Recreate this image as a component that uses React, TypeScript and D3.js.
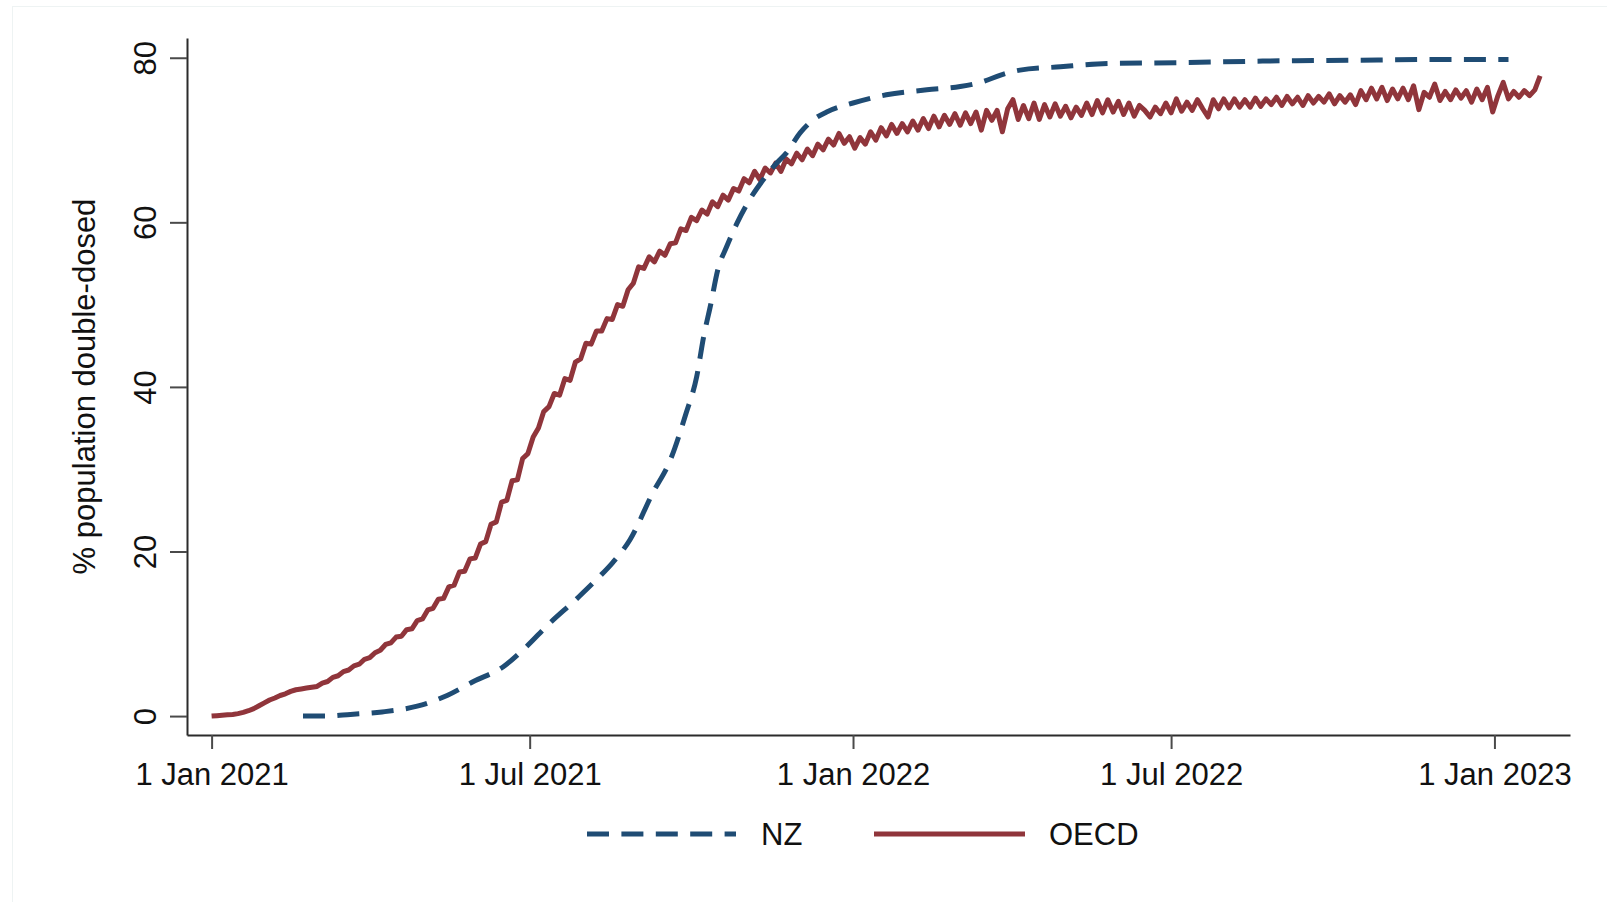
import React, { useEffect, useRef } from 'react';
import * as d3 from 'd3';

const width = 1607;
const height = 902;
const plot = { left: 187, right: 1570, top: 38, bottom: 735 };

// NZ: share of population double-dosed
const nzDates = [
  '2021-02-22', '2021-03-07', '2021-03-21', '2021-04-08', '2021-04-28', '2021-05-15',
  '2021-05-30', '2021-06-16', '2021-06-29', '2021-07-11', '2021-07-29', '2021-08-09',
  '2021-08-17', '2021-08-27', '2021-09-09', '2021-09-19', '2021-09-28', '2021-10-04',
  '2021-10-08', '2021-10-12', '2021-10-16', '2021-10-21', '2021-10-27', '2021-11-03',
  '2021-11-11', '2021-11-19', '2021-11-24', '2021-12-02', '2021-12-09', '2021-12-17',
  '2022-01-01', '2022-01-20', '2022-02-12', '2022-03-03', '2022-03-16', '2022-03-26',
  '2022-04-06', '2022-04-29', '2022-05-27', '2022-07-05', '2022-08-24', '2022-10-13',
  '2022-12-02', '2023-01-09',
];
const nzValues = [
  0, 0, 0.2, 0.5, 1.2, 2.5,
  4.2, 6.0, 8.4, 11.0, 14.5, 16.8,
  18.6, 21.4, 27.1, 31.1, 36.8, 41.2,
  46.1, 50.0, 54.2, 57.0, 59.9, 62.7,
  65.2, 67.3, 68.4, 70.9, 72.4, 73.4,
  74.5, 75.5, 76.1, 76.5, 77.1, 77.9,
  78.5, 78.9, 79.3, 79.4, 79.6, 79.7,
  79.8, 79.8,
];

// OECD: one reading every 3 days from 1 Jan 2021
const oecdStart = '2021-01-01';
const oecdStepDays = 3;
const oecdValues = [
  0.0, 0.05, 0.1, 0.15, 0.2, 0.3, 0.45, 0.65, 0.9, 1.25,
  1.6, 1.95, 2.2, 2.5, 2.7, 3.0, 3.2, 3.3, 3.4, 3.5,
  3.6, 4.0, 4.2, 4.7, 4.9, 5.4, 5.6, 6.1, 6.3, 6.9,
  7.1, 7.7, 8.0, 8.7, 8.9, 9.6, 9.7, 10.5, 10.6, 11.6,
  11.8, 12.9, 13.1, 14.2, 14.3, 15.7, 15.9, 17.5, 17.6, 19.1,
  19.2, 20.9, 21.2, 23.3, 23.6, 26.0, 26.2, 28.6, 28.7, 31.3,
  31.9, 33.9, 35.0, 37.0, 37.6, 39.2, 39.0, 41.0, 40.8, 43.0,
  43.4, 45.3, 45.2, 46.8, 46.8, 48.3, 48.2, 50.0, 49.8, 51.8,
  52.6, 54.6, 54.4, 55.8, 55.2, 56.5, 56.0, 57.4, 57.5, 59.2,
  59.0, 60.6, 60.2, 61.5, 61.0, 62.5, 61.9, 63.3, 62.7, 64.1,
  63.8, 65.3, 64.8, 66.2, 65.2, 66.6, 66.0, 67.2, 66.2, 67.7,
  67.1, 68.4, 67.6, 68.9, 68.1, 69.5, 68.8, 70.1, 69.4, 70.8,
  69.6, 70.4, 69.0, 70.3, 69.5, 71.0, 70.0, 71.5, 70.5, 71.9,
  70.8, 72.0, 71.0, 72.3, 71.2, 72.6, 71.4, 72.9, 71.6, 73.0,
  71.9, 73.2, 71.8, 73.3, 72.0, 73.4, 71.2, 73.6, 72.4, 73.6,
  71.0, 73.8, 74.9, 72.5, 74.2, 72.6, 74.5, 72.5, 74.3, 72.8,
  74.4, 72.9, 74.1, 72.7, 74.0, 73.0, 74.5, 73.1, 74.8, 73.3,
  74.9, 73.4, 74.7, 73.1, 74.5, 72.9, 74.2, 73.6, 72.8, 74.0,
  73.2, 74.5, 73.3, 75.0, 73.5, 74.6, 73.6, 74.9, 73.8, 72.8,
  74.9, 73.8, 75.0, 73.9, 75.0, 74.0, 74.9, 74.0, 75.1, 74.1,
  75.0, 74.3, 75.2, 74.2, 75.3, 74.4, 75.2, 74.2, 75.4, 74.5,
  75.3, 74.6, 75.6, 74.4, 75.4, 74.6, 75.5, 74.3, 76.0, 74.9,
  76.3, 75.0, 76.4, 74.8, 76.2, 75.0, 76.3, 74.9, 76.6, 73.7,
  75.8, 75.2, 76.8, 74.8, 75.9, 74.9, 76.1, 75.1, 76.0, 74.6,
  76.2, 74.9, 76.4, 73.4, 75.4, 77.0, 75.0, 75.9, 75.2, 76.0,
  75.4, 76.1, 77.8,
];

const xTicks = ['2021-01-01', '2021-07-01', '2022-01-01', '2022-07-01', '2023-01-01'];
const xTickLabels = ['1 Jan 2021', '1 Jul 2021', '1 Jan 2022', '1 Jul 2022', '1 Jan 2023'];
const yTicks = [0, 20, 40, 60, 80];
const yTitle = '% population double-dosed';
const seriesNames = ['NZ', 'OECD'];

const navy = '#1f4c74';
const maroon = '#90353b';
const font = "'Liberation Sans', Arial, sans-serif";
const lineWidth = 5;

const App = () => {
  const ref = useRef(null);

  useEffect(() => {
    const svg = d3.select(ref.current);
    svg.selectAll('*').remove();

    const x = d3.scaleUtc()
      .domain([new Date('2020-12-18'), new Date('2023-02-13')])
      .range([plot.left, plot.right]);
    const y = d3.scaleLinear()
      .domain([-2.3, 82.4])
      .range([plot.bottom, plot.top]);

    svg.append('rect')
      .attr('width', width).attr('height', height).attr('fill', '#fff');
    svg.append('rect')
      .attr('x', 12.5).attr('y', 6.5)
      .attr('width', width).attr('height', height)
      .attr('fill', 'none').attr('stroke', '#eef3f3');

    const nz = nzDates.map((d, i) => ({ date: new Date(d), v: nzValues[i] }));
    const start = new Date(oecdStart);
    const oecd = oecdValues.map((v, i) => ({ date: d3.utcDay.offset(start, i * oecdStepDays), v }));

    // y axis
    const yAxis = svg.append('g')
      .attr('transform', `translate(${plot.left},0)`)
      .call(d3.axisLeft(y).tickValues(yTicks).tickSize(17).tickSizeOuter(0));
    yAxis.select('.domain').attr('stroke', '#2b2b2b').attr('stroke-width', 2);
    yAxis.selectAll('.tick line').attr('stroke', '#4a4a4a').attr('stroke-width', 2);
    yAxis.selectAll('.tick text')
      .attr('x', null).attr('dy', null)
      .attr('transform', 'translate(-31,0) rotate(-90)')
      .attr('text-anchor', 'middle')
      .attr('fill', '#111')
      .style('font-family', font).style('font-size', '31px');

    // x axis
    const xAxis = svg.append('g')
      .attr('transform', `translate(0,${plot.bottom})`)
      .call(d3.axisBottom(x)
        .tickValues(xTicks.map(d => new Date(d)))
        .tickFormat((d, i) => xTickLabels[i])
        .tickSize(14).tickSizeOuter(0));
    xAxis.select('.domain').attr('stroke', '#2b2b2b').attr('stroke-width', 2);
    xAxis.selectAll('.tick line').attr('stroke', '#4a4a4a').attr('stroke-width', 2);
    xAxis.selectAll('.tick text')
      .attr('y', 50).attr('dy', null)
      .attr('fill', '#111')
      .style('font-family', font).style('font-size', '31px');

    svg.append('text')
      .attr('transform', `translate(95,${(plot.top + plot.bottom) / 2}) rotate(-90)`)
      .attr('text-anchor', 'middle')
      .attr('fill', '#111')
      .style('font-family', font).style('font-size', '31px')
      .text(yTitle);

    const line = d3.line()
      .x(d => x(d.date))
      .y(d => y(d.v));

    svg.append('path')
      .datum(oecd)
      .attr('fill', 'none')
      .attr('stroke', maroon)
      .attr('stroke-width', lineWidth)
      .attr('stroke-linejoin', 'round')
      .attr('d', line);

    svg.append('path')
      .datum(nz)
      .attr('fill', 'none')
      .attr('stroke', navy)
      .attr('stroke-width', lineWidth)
      .attr('stroke-dasharray', '22 12.4')
      .attr('d', line.curve(d3.curveMonotoneX));

    // legend
    const legend = svg.append('g');
    legend.append('line')
      .attr('x1', 587).attr('x2', 736).attr('y1', 834).attr('y2', 834)
      .attr('stroke', navy).attr('stroke-width', lineWidth).attr('stroke-dasharray', '22 12.4');
    legend.append('text')
      .attr('x', 761).attr('y', 845)
      .attr('fill', '#111')
      .style('font-family', font).style('font-size', '31px')
      .text(seriesNames[0]);
    legend.append('line')
      .attr('x1', 874).attr('x2', 1025).attr('y1', 834).attr('y2', 834)
      .attr('stroke', maroon).attr('stroke-width', lineWidth);
    legend.append('text')
      .attr('x', 1049).attr('y', 845)
      .attr('fill', '#111')
      .style('font-family', font).style('font-size', '31px')
      .text(seriesNames[1]);
  }, []);

  return (
    <svg
      ref={ref}
      width={width}
      height={height}
      style={{ position: 'absolute', left: 0, top: 0, display: 'block' }}
    />
  );
};

export default App;
